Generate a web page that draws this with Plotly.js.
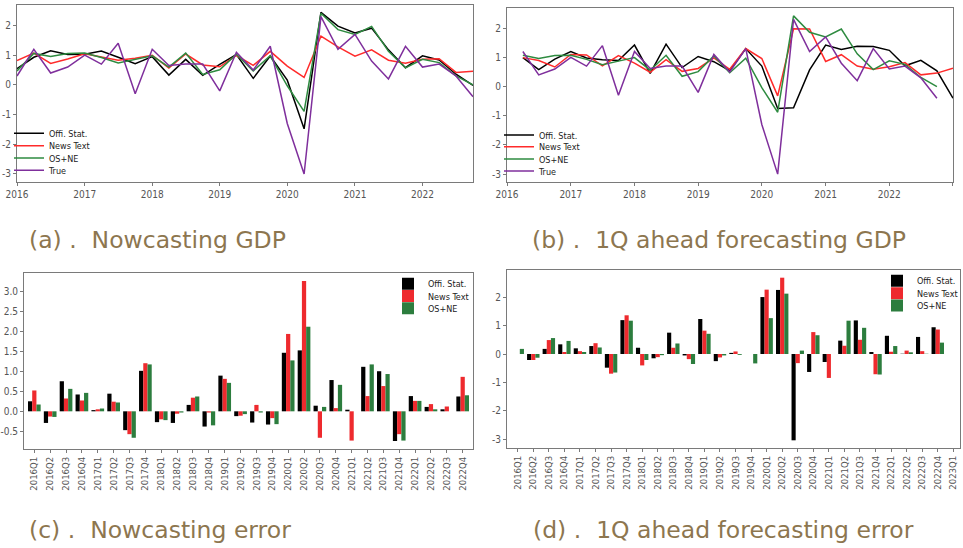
<!DOCTYPE html>
<html>
<head>
<meta charset="utf-8">
<script src="https://cdn.plot.ly/plotly-3.0.1.min.js"></script>
<style>html,body{margin:0;padding:0;background:#fff}#chart{width:963px;height:548px}</style>
</head>
<body>
<div id="chart"></div>
<script>
// ---------------- data ----------------
const quarters = ['2016Q1','2016Q2','2016Q3','2016Q4','2017Q1','2017Q2','2017Q3','2017Q4',
  '2018Q1','2018Q2','2018Q3','2018Q4','2019Q1','2019Q2','2019Q3','2019Q4',
  '2020Q1','2020Q2','2020Q3','2020Q4','2021Q1','2021Q2','2021Q3','2021Q4',
  '2022Q1','2022Q2','2022Q3','2022Q4','2023Q1'];
const seriesNames = ['Offi. Stat.','News Text','OS+NE','True'];
const yearTicks = ['2016','2017','2018','2019','2020','2021','2022','2023'];

// (a) Nowcasting GDP, 2016Q1..2022Q4
const nowTrue  = [0.3,1.2,0.4,0.6,1.0,0.7,1.4,-0.3,1.2,0.65,0.7,0.7,-0.2,1.1,0.5,1.3,-1.3,-3.0,2.3,1.2,1.7,0.8,0.2,1.3,0.6,0.7,0.3,-0.4];
const nowOffi  = [0.55,0.93,1.15,1.02,1.03,1.14,0.93,0.71,0.95,0.33,0.86,0.32,0.69,1.02,0.22,0.97,0.16,-1.48,2.44,1.98,1.75,1.91,1.18,0.58,0.98,0.84,0.36,-0.02];
const nowNews  = [0.82,1.07,0.72,0.87,1.05,0.94,0.83,0.9,1.0,0.57,1.04,0.67,0.61,0.99,0.66,1.13,0.63,0.25,1.64,1.28,0.97,1.18,0.83,0.73,0.86,0.88,0.42,0.46];
const nowOSNE  = [0.47,1.06,0.96,1.06,1.07,0.92,0.74,0.87,0.98,0.6,1.07,0.35,0.51,1.03,0.47,0.98,-0.03,-0.89,2.41,1.86,1.7,1.97,1.13,0.57,0.86,0.75,0.3,0.0];

// (b) 1Q ahead forecasting GDP
const fcTrue = [1.2,0.4,0.6,1.0,0.7,1.4,-0.3,1.2,0.62,0.7,0.7,-0.2,1.1,0.5,1.3,-1.3,-3.0,2.3,1.2,1.7,0.8,0.2,1.3,0.6,0.7,0.3,-0.4];      // 2016Q2..2022Q4
const fcOffi = [0.99,0.58,0.94,1.2,0.98,0.92,0.89,1.42,0.45,1.45,0.65,1.03,0.85,0.54,1.3,0.7,-0.75,-0.73,0.57,1.42,1.27,1.38,1.37,1.24,0.71,0.9,0.54,-0.4]; // 2016Q2..2023Q1
const fcNews = [0.99,0.89,0.67,1.1,1.08,0.71,1.06,0.8,0.49,0.92,0.52,0.62,0.98,0.59,1.3,0.96,-0.32,1.98,1.97,0.86,1.09,0.7,0.59,0.68,0.82,0.4,0.46,0.63]; // 2016Q2..2023Q1
const fcOSNE = [1.07,0.96,1.06,1.07,0.93,0.75,0.87,0.99,0.56,1.07,0.35,0.51,1.05,0.47,0.97,-0.04,-0.88,2.42,1.86,1.7,1.97,1.12,0.58,0.88,0.76,0.31,0.0]; // 2016Q2..2022Q4

// (c) Nowcasting error, 2016Q1..2022Q4
const errNowOffi = [0.25,-0.29,0.75,0.42,0.03,0.44,-0.47,1.01,-0.27,-0.29,0.16,-0.38,0.89,-0.12,-0.28,-0.33,1.46,1.52,0.14,0.78,0.04,1.11,1.0,-0.74,0.38,0.11,0.05,0.37];
const errNowNews = [0.52,-0.13,0.32,0.27,0.05,0.24,-0.57,1.2,-0.2,-0.06,0.34,-0.03,0.81,-0.11,0.16,-0.17,1.93,3.25,-0.66,0.08,-0.73,0.38,0.63,-0.57,0.26,0.18,0.12,0.86];
const errNowOSNE = [0.17,-0.14,0.56,0.46,0.07,0.22,-0.66,1.17,-0.22,-0.03,0.37,-0.35,0.71,-0.07,-0.03,-0.32,1.27,2.11,0.11,0.66,0.0,1.17,0.93,-0.73,0.26,0.05,0.0,0.40];

// (d) 1Q ahead forecasting error, 2016Q1..2023Q1
const errFcOffi = [0,-0.21,0.18,0.34,0.2,0.28,-0.48,1.19,0.22,-0.15,0.75,-0.05,1.23,-0.25,0.04,0.0,2.0,2.25,-3.03,-0.63,-0.28,0.47,1.18,0.07,0.64,0.01,0.6,0.94,null];
const errFcNews = [0,-0.21,0.49,0.07,0.1,0.38,-0.69,1.36,-0.4,-0.11,0.22,-0.18,0.82,-0.12,0.09,0.0,2.26,2.68,-0.32,0.77,-0.84,0.29,0.5,-0.71,0.08,0.12,0.1,0.86,null];
const errFcOSNE = [0.18,-0.13,0.56,0.46,0.07,0.23,-0.65,1.17,-0.21,-0.04,0.37,-0.35,0.71,-0.05,-0.03,-0.33,1.26,2.12,0.12,0.66,0.0,1.17,0.92,-0.72,0.28,0.06,0.01,0.4,null];

const captions = ['(a) .\u00a0\u00a0Nowcasting GDP','(b) .\u00a0\u00a01Q ahead forecasting GDP',
                  '(c) .\u00a0\u00a0Nowcasting error','(d) .\u00a0\u00a01Q ahead forecasting error'];
const yTicksLine = [-3,-2,-1,0,1,2];
const yTicksLineText = ['-3','-2','-1','0','1','2'];
const yTicksC = [-0.5,0,0.5,1,1.5,2,2.5,3];
const yTicksCText = ['-0.5','0.0','0.5','1.0','1.5','2.0','2.5','3.0'];

// ---------------- styling / layout ----------------
const W = 963, H = 548;
const px = v => v / W, py = v => 1 - v / H;
const qDate = q => q.slice(0,4) + '-' + ['01','04','07','10'][+q[5]-1] + '-01';
const lineColors = ['#000000','#ff2b2b','#2e8b40','#7f2f9c'];
const barColors = ['#000000','#ee2a2e','#2c7d3e'];
const narrow = 'Liberation Sans Narrow, DejaVu Sans Condensed, Roboto, sans-serif';
const tickFont = {family: narrow, size:10, color:'#555'};
const legFont = {family: narrow, size:9, color:'#222'};

const traces = [];
const legends = {};
let legCount = 0;
function addLegend(left, cy) {
  legCount++;
  const id = legCount === 1 ? 'legend' : 'legend' + legCount;
  legends[id] = {x: px(left), y: py(cy), xanchor:'left', yanchor:'middle', bgcolor:'rgba(0,0,0,0)',
                 font: legFont, itemwidth:30, tracegroupgap:0, borderwidth:0};
  return id;
}

// (a)
const xa = quarters.slice(0,28).map(qDate);
[nowOffi, nowNews, nowOSNE, nowTrue].forEach((arr, i) => {
  traces.push({type:'scatter', mode:'lines', x: xa, y: arr, name: seriesNames[i], xaxis:'x', yaxis:'y',
    line:{color: lineColors[i], width:1.5}, legend: addLegend(9, [133.3,145.7,158,170.3][i])});
});
// (b)
const xbLong = quarters.slice(1,29).map(qDate);
const xbShort = quarters.slice(1,28).map(qDate);
[[fcOffi, xbLong],[fcNews, xbLong],[fcOSNE, xbShort],[fcTrue, xbShort]].forEach((p, i) => {
  traces.push({type:'scatter', mode:'lines', x: p[1], y: p[0], name: seriesNames[i], xaxis:'x2', yaxis:'y2',
    line:{color: lineColors[i], width:1.5}, legend: addLegend(499, [135,146.7,159,171][i])});
});
// (c)
const xc = quarters.slice(0,28);
[errNowOffi, errNowNews, errNowOSNE].forEach((arr, i) => {
  traces.push({type:'bar', x: xc, y: arr, name: seriesNames[i], xaxis:'x3', yaxis:'y3',
    marker:{color: barColors[i], line:{width:0}}, legend: addLegend(388, [283.7,296,308.3][i])});
});
// (d)
[errFcOffi, errFcNews, errFcOSNE].forEach((arr, i) => {
  traces.push({type:'bar', x: quarters, y: arr, name: seriesNames[i], xaxis:'x4', yaxis:'y4',
    marker:{color: barColors[i], line:{width:0}}, legend: addLegend(877, [280.7,293.3,305.5][i])});
});

const axBase = {showline:true, mirror:true, linecolor:'#7a7a7a', linewidth:1, ticks:'outside', ticklen:3,
  tickcolor:'#7a7a7a', showgrid:false, zeroline:false, tickfont: tickFont, fixedrange:true};

const layout = Object.assign({
  width: W, height: H, margin:{l:0,r:0,t:0,b:0}, paper_bgcolor:'#fff', plot_bgcolor:'#fff',
  barmode:'group', bargap:0.2, bargroupgap:0, showlegend:true,
  xaxis: Object.assign({}, axBase, {domain:[px(17), px(473)], anchor:'y', type:'date',
    range:['2016-01-01','2022-10-01'], tickmode:'array', tickvals: yearTicks.slice(0,7).map(y => y + '-01-01'), ticktext: yearTicks.slice(0,7)}),
  yaxis: Object.assign({}, axBase, {domain:[py(182), py(5)], anchor:'x', range:[-3.27,2.69],
    tickmode:'array', tickvals: yTicksLine, ticktext: yTicksLineText}),
  xaxis2: Object.assign({}, axBase, {domain:[px(507), px(953)], anchor:'y2', type:'date',
    range:['2016-01-01','2023-01-01 06:00'], tickmode:'array', tickvals: yearTicks.map(y => y + '-01-01'), ticktext: yearTicks}),
  yaxis2: Object.assign({}, axBase, {domain:[py(182), py(8)], anchor:'x2', range:[-3.27,2.69],
    tickmode:'array', tickvals: yTicksLine, ticktext: yTicksLineText}),
  xaxis3: Object.assign({}, axBase, {domain:[px(24), px(473)], anchor:'y3', type:'category',
    range:[-0.65, 27.65], tickangle:-90, tickfont:{family: narrow, size:9.5, color:'#555'}}),
  yaxis3: Object.assign({}, axBase, {domain:[py(449), py(273)], anchor:'x3', range:[-0.94,3.45],
    tickmode:'array', tickvals: yTicksC, ticktext: yTicksCText}),
  xaxis4: Object.assign({}, axBase, {domain:[px(507), px(960)], anchor:'y4', type:'category',
    range:[-0.69, 28.43], tickangle:-90, tickfont:{family: narrow, size:9.5, color:'#555'}}),
  yaxis4: Object.assign({}, axBase, {domain:[py(448), py(270)], anchor:'x4', range:[-3.3,2.95],
    tickmode:'array', tickvals: yTicksLine, ticktext: yTicksLineText}),
  annotations: [[27,240],[530,240],[27,530],[531,530]].map((p, i) => ({
    text: captions[i], xref:'paper', yref:'paper', x: px(p[0]), y: py(p[1]), xanchor:'left', yanchor:'middle',
    showarrow:false, font:{family:'DejaVu Sans, sans-serif', size:23.5, color:'#8d764f'}}))
}, legends);

Plotly.newPlot('chart', traces, layout, {staticPlot:true, displayModeBar:false});
</script>
</body>
</html>
